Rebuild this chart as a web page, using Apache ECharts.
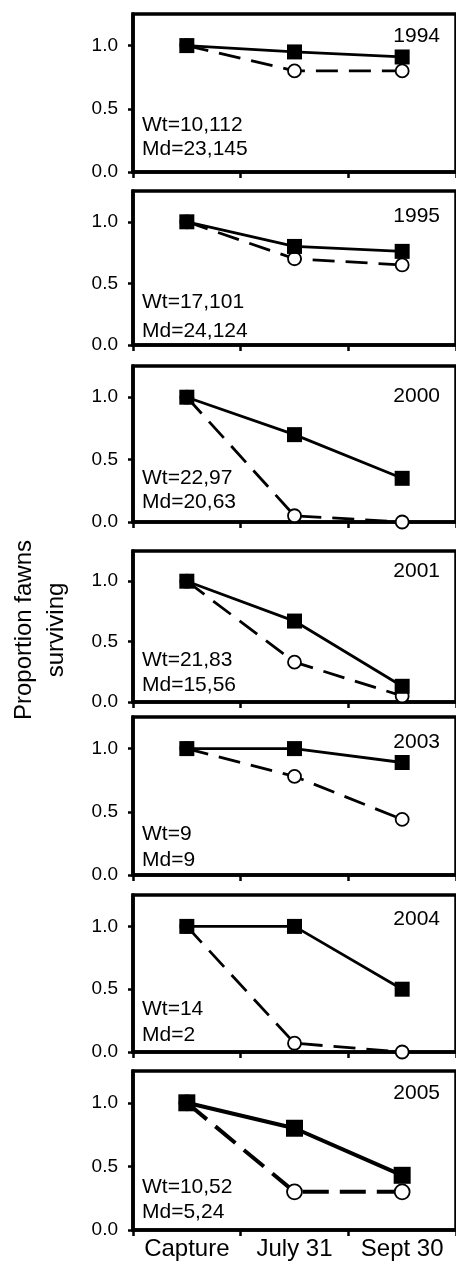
<!DOCTYPE html>
<html>
<head>
<meta charset="utf-8">
<script src="https://cdn.jsdelivr.net/npm/echarts@6/dist/echarts.min.js"></script>
<style>
  html, body { margin: 0; padding: 0; background: #fff; }
  #chart { width: 456px; height: 1266px; }
</style>
</head>
<body>
<div id="chart"></div>
<script>
// data
const stages = ['Capture', 'July 31', 'Sept 30'];
const years = ['1994', '1995', '2000', '2001', '2003', '2004', '2005'];
const wtLabels = ['Wt=10,112', 'Wt=17,101', 'Wt=22,97', 'Wt=21,83', 'Wt=9', 'Wt=14', 'Wt=10,52'];
const mdLabels = ['Md=23,145', 'Md=24,124', 'Md=20,63', 'Md=15,56', 'Md=9', 'Md=2', 'Md=5,24'];
const wtSurvival = [
  [1.0, 0.95, 0.91],
  [1.0, 0.80, 0.76],
  [1.0, 0.70, 0.35],
  [1.0, 0.67, 0.13],
  [1.0, 1.0, 0.89],
  [1.0, 1.0, 0.50],
  [1.0, 0.80, 0.43]
];
const mdSurvival = [
  [1.0, 0.80, 0.80],
  [1.0, 0.70, 0.65],
  [1.0, 0.05, 0.0],
  [1.0, 0.33, 0.05],
  [1.0, 0.78, 0.44],
  [1.0, 0.07, 0.0],
  [1.0, 0.30, 0.30]
];
const yTicks = [0, 0.5, 1.0];

// panel layout (pixels)
const panelTop = [14, 191, 366, 551, 717, 895, 1071];
const panelBottom = [172, 345, 522, 702, 875, 1052, 1230];
const yearBase = [28, 31, 36, 26, 31, 30, 28];   // baseline below panel top
const wtBase = [41, 37, 38, 36, 35, 37, 37];     // baseline above zero line
const mdBase = [17, 8, 14, 11, 9, 11, 12];

const font = '"Liberation Sans", Arial, Helvetica, sans-serif';
const n = years.length;
const last = n - 1;

const grid = [], xAxis = [], yAxis = [], series = [], graphic = [];

for (let i = 0; i < n; i++) {
  const big = i === last;
  grid.push({
    left: 133, top: panelTop[i], width: 330, height: panelBottom[i] - panelTop[i],
    show: true, borderColor: '#000', borderWidth: 3.5, backgroundColor: 'transparent'
  });
  xAxis.push({
    type: 'category', gridIndex: i, data: stages, boundaryGap: true,
    axisLine: {lineStyle: {color: '#000', width: 3.5}},
    axisTick: {show: true, length: 6, lineStyle: {color: '#000', width: 2.5}},
    axisLabel: {
      show: big, interval: 0, hideOverlap: false,
      color: '#000', fontSize: 24, fontFamily: font, margin: 7
    },
    splitLine: {show: false}
  });
  yAxis.push({
    type: 'value', gridIndex: i, min: 0, max: 1.25,
    axisLine: {show: true, lineStyle: {color: '#000', width: 3.5}},
    axisTick: {show: true, length: 5, customValues: yTicks, lineStyle: {color: '#000', width: 2.5}},
    axisLabel: {
      customValues: yTicks, color: '#000', fontSize: 19, fontFamily: font, margin: 15,
      formatter: v => v.toFixed(1)
    },
    splitLine: {show: false}
  });
  series.push({
    name: 'Md ' + years[i], type: 'line', xAxisIndex: i, yAxisIndex: i,
    data: mdSurvival[i], clip: false, z: 2,
    symbol: 'circle', symbolSize: big ? 15 : 13,
    itemStyle: {color: '#fff', borderColor: '#000', borderWidth: 1.8},
    lineStyle: {color: '#000', width: big ? 4 : 2.8, type: big ? [26, 11] : [22, 11]}
  });
  series.push({
    name: 'Wt ' + years[i], type: 'line', xAxisIndex: i, yAxisIndex: i,
    data: wtSurvival[i], clip: false, z: 3,
    symbol: 'rect', symbolSize: big ? 17 : 15,
    itemStyle: {color: '#000'},
    lineStyle: {color: '#000', width: big ? 4 : 2.8, type: 'solid'}
  });
  const fs = 21;
  graphic.push({
    type: 'text', right: 16, top: panelTop[i] + yearBase[i] - 0.76 * fs,
    style: {text: years[i], font: fs + 'px ' + font, fill: '#000'}
  });
  graphic.push({
    type: 'text', left: 142, top: panelBottom[i] - wtBase[i] - 0.76 * fs,
    style: {text: wtLabels[i], font: fs + 'px ' + font, fill: '#000'}
  });
  graphic.push({
    type: 'text', left: 142, top: panelBottom[i] - mdBase[i] - 0.76 * fs,
    style: {text: mdLabels[i], font: fs + 'px ' + font, fill: '#000'}
  });
}

graphic.push({
  type: 'text', x: 40, y: 630, rotation: Math.PI / 2,
  style: {
    text: 'Proportion fawns\nsurviving', font: '24px ' + font, fill: '#000',
    align: 'center', verticalAlign: 'middle', lineHeight: 32
  }
});

const myChart = echarts.init(document.getElementById('chart'));
myChart.setOption({
  animation: false,
  backgroundColor: '#fff',
  grid: grid,
  xAxis: xAxis,
  yAxis: yAxis,
  series: series,
  graphic: graphic
});
</script>
</body>
</html>
